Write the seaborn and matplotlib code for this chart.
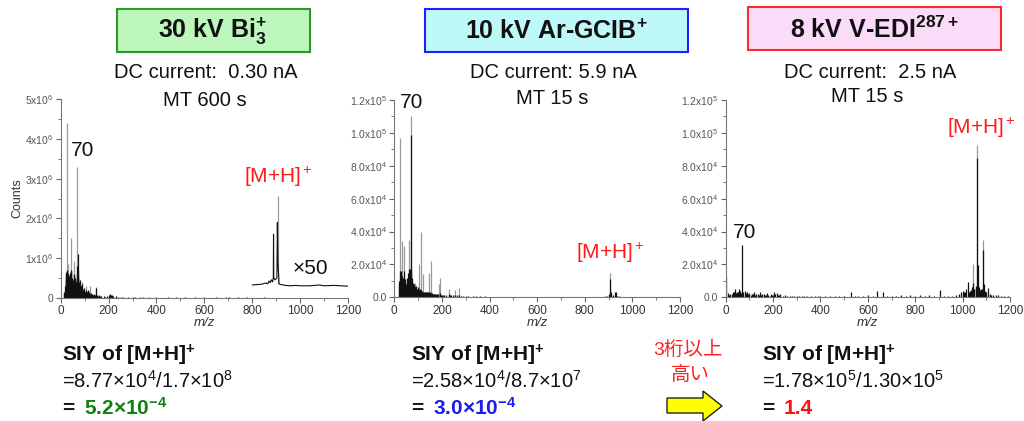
import matplotlib
matplotlib.use("Agg")
import matplotlib.pyplot as plt
import matplotlib.ticker as mticker
from matplotlib.patches import Rectangle, Polygon
import pandas as pd
import seaborn as sns

sns.set_style("ticks")
plt.rcParams["font.family"] = ["Liberation Sans", "Noto Sans CJK JP", "DejaVu Sans"]
plt.rcParams["mathtext.fontset"] = "custom"
plt.rcParams["mathtext.rm"] = "Liberation Sans"
plt.rcParams["mathtext.it"] = "Liberation Sans:italic"
plt.rcParams["mathtext.bf"] = "Liberation Sans:bold"

W, H = 1024, 421

# ---- spectrum data (m/z, counts) ----
# 30 kV Bi3+
bi_black_mz = [12, 15, 18, 22, 24, 26, 28, 30, 32, 36, 39, 41, 43, 46, 50, 53, 55, 59, 62, 65, 67, 69, 72,
               74, 77, 79, 81, 84, 86, 88, 91, 95, 98, 102, 105, 110, 115, 120, 126, 130, 136, 140, 147, 150,
               158, 165, 180, 195, 207, 215, 230, 250, 280, 310, 345, 400, 450, 520, 600, 690, 705, 780]
bi_black_int = [0.12e6, 0.15e6, 0.2e6, 0.45e6, 0.65e6, 0.7e6, 0.55e6, 0.6e6, 0.45e6, 0.5e6, 0.55e6, 0.7e6,
                0.65e6, 0.4e6, 0.35e6, 0.45e6, 0.6e6, 0.4e6, 0.3e6, 0.4e6, 0.5e6, 0.8e6, 1.1e6, 0.5e6, 0.35e6,
                0.3e6, 0.45e6, 0.3e6, 0.25e6, 0.2e6, 0.35e6, 0.2e6, 0.25e6, 0.15e6, 0.2e6, 0.15e6, 0.2e6,
                0.15e6, 0.12e6, 0.1e6, 0.08e6, 0.1e6, 0.25e6, 0.08e6, 0.06e6, 0.05e6, 0.04e6, 0.05e6, 0.1e6,
                0.08e6, 0.04e6, 0.03e6, 0.03e6, 0.02e6, 0.03e6, 0.02e6, 0.03e6, 0.02e6, 0.02e6, 0.03e6,
                0.02e6, 0.02e6]
bi_minor_mz = [20, 21, 23, 25, 27, 29, 31, 33, 34, 35, 37, 38, 40, 42, 45, 47, 48, 49, 51, 52, 54, 56, 58,
               60, 61, 63, 64, 66, 68, 71, 73, 75, 76, 78, 80, 82, 83, 85, 87, 89, 93, 97, 100, 108, 112, 118,
               124, 133, 144, 155, 170, 185, 200, 210, 220, 240, 260, 300, 330, 370, 480, 560, 650, 740, 850]
bi_minor_int = [0.3e6, 0.55e6, 0.6e6, 0.68e6, 0.62e6, 0.5e6, 0.58e6, 0.4e6, 0.55e6, 0.45e6, 0.6e6, 0.5e6,
                0.62e6, 0.68e6, 0.5e6, 0.45e6, 0.4e6, 0.5e6, 0.42e6, 0.38e6, 0.5e6, 0.58e6, 0.5e6, 0.45e6,
                0.35e6, 0.4e6, 0.3e6, 0.45e6, 0.6e6, 0.7e6, 0.55e6, 0.4e6, 0.3e6, 0.35e6, 0.3e6, 0.35e6,
                0.28e6, 0.3e6, 0.22e6, 0.25e6, 0.2e6, 0.18e6, 0.15e6, 0.14e6, 0.16e6, 0.12e6, 0.1e6, 0.08e6,
                0.07e6, 0.05e6, 0.04e6, 0.03e6, 0.06e6, 0.07e6, 0.05e6, 0.03e6, 0.02e6, 0.02e6, 0.02e6,
                0.015e6, 0.015e6, 0.015e6, 0.02e6, 0.015e6, 0.02e6]
bi_gray_mz = [26, 30, 44, 57, 70, 90, 105, 122, 147]
bi_gray_int = [4.4e6, 0.85e6, 1.5e6, 0.92e6, 3.3e6, 0.4e6, 0.3e6, 0.3e6, 0.28e6]
# x50 expanded trace (drawn with its offset)
bi_x50_mz = [800, 820, 840, 855, 865, 870, 875, 880, 885, 888, 889, 890, 895, 903, 905, 907, 910, 912, 920,
             940, 960, 980, 1000, 1040, 1080, 1100, 1140, 1170, 1200]
bi_x50_int = [0.32e6, 0.33e6, 0.34e6, 0.37e6, 0.35e6, 0.42e6, 0.38e6, 0.45e6, 0.4e6, 0.5e6, 1.6e6, 0.5e6,
              0.45e6, 0.5e6, 1.9e6, 0.9e6, 0.6e6, 0.35e6, 0.33e6, 0.31e6, 0.3e6, 0.31e6, 0.3e6, 0.3e6,
              0.32e6, 0.3e6, 0.31e6, 0.3e6, 0.29e6]
bi_x50_gray_mz = [906]
bi_x50_gray_int = [2.56e6]

# 10 kV Ar-GCIB+
ar_black_mz = [20, 23, 27, 30, 36, 41, 44, 50, 55, 58, 63, 67, 70, 74, 77, 80, 84, 88, 91, 95, 98, 102, 106,
               110, 115, 120, 128, 135, 141, 150, 158, 165, 172, 180, 190, 200, 210, 228, 240, 255, 270, 290,
               310, 345, 380, 420, 460, 520, 600, 700, 800, 870, 895, 907, 912, 925, 935, 960, 1000, 1100]
ar_black_int = [1.0e4, 1.6e4, 1.4e4, 1.6e4, 1.2e4, 1.6e4, 0.9e4, 0.8e4, 1.2e4, 1.5e4, 1.7e4, 1.7e4, 9.87e4,
                1.2e4, 0.9e4, 0.7e4, 0.8e4, 0.6e4, 0.7e4, 0.5e4, 0.6e4, 0.5e4, 0.4e4, 0.5e4, 0.4e4, 0.35e4,
                0.3e4, 0.35e4, 0.3e4, 0.3e4, 0.25e4, 0.2e4, 0.2e4, 0.2e4, 0.25e4, 0.15e4, 0.15e4, 0.2e4,
                0.12e4, 0.15e4, 0.15e4, 0.1e4, 0.08e4, 0.06e4, 0.05e4, 0.04e4, 0.03e4, 0.03e4, 0.02e4,
                0.02e4, 0.02e4, 0.03e4, 0.06e4, 1.1e4, 0.3e4, 0.35e4, 0.1e4, 0.04e4, 0.02e4, 0.02e4]
ar_minor_mz = [21, 25, 29, 33, 38, 43, 47, 52, 60, 65, 69, 72, 76, 82, 86, 93, 100, 108, 113, 118, 125, 132,
               138, 145, 155, 162, 168, 176, 185, 195, 205, 218, 233, 248, 262, 280, 300, 330, 360, 400, 440,
               490, 560, 650, 750, 850, 885, 900, 903, 918, 930, 945]
ar_minor_int = [0.8e4, 1.2e4, 1.0e4, 1.3e4, 1.0e4, 1.1e4, 0.7e4, 0.9e4, 1.2e4, 1.4e4, 1.6e4, 1.5e4, 1.0e4,
                0.7e4, 0.6e4, 0.5e4, 0.45e4, 0.4e4, 0.45e4, 0.35e4, 0.3e4, 0.3e4, 0.3e4, 0.3e4, 0.25e4,
                0.2e4, 0.2e4, 0.18e4, 0.2e4, 0.15e4, 0.15e4, 0.12e4, 0.15e4, 0.12e4, 0.12e4, 0.1e4, 0.08e4,
                0.06e4, 0.05e4, 0.04e4, 0.03e4, 0.03e4, 0.02e4, 0.02e4, 0.02e4, 0.03e4, 0.05e4, 0.1e4,
                0.2e4, 0.15e4, 0.3e4, 0.08e4]
ar_gray_mz = [23, 32, 41, 47, 63, 72, 85, 105, 112, 119, 146, 153, 186, 192, 228, 255, 272, 905]
ar_gray_int = [9.7e4, 3.4e4, 3.1e4, 1.1e4, 3.5e4, 1.1e5, 0.9e4, 2.0e4, 4.0e4, 1.4e4, 1.5e4, 2.2e4, 0.8e4,
               1.2e4, 0.5e4, 0.45e4, 0.55e4, 1.46e4]

# 8 kV V-EDI287+
edi_black_mz = [2, 10, 20, 30, 40, 48, 55, 62, 70, 80, 90, 100, 110, 120, 130, 145, 160, 175, 190, 205, 215,
                230, 250, 270, 300, 330, 360, 400, 440, 480, 530, 560, 600, 640, 665, 700, 740, 780, 820,
                860, 905, 940, 970, 995, 1000, 1010, 1021, 1030, 1040, 1044, 1050, 1055, 1062, 1066, 1070,
                1078, 1085, 1090, 1095, 1107, 1115, 1130, 1150, 1175]
edi_black_int = [1.25e4, 0.25e4, 0.2e4, 0.35e4, 0.5e4, 0.3e4, 0.5e4, 0.4e4, 3.18e4, 0.4e4, 0.3e4, 0.25e4,
                 0.2e4, 0.3e4, 0.2e4, 0.3e4, 0.2e4, 0.25e4, 0.2e4, 0.3e4, 0.25e4, 0.2e4, 0.15e4, 0.1e4,
                 0.1e4, 0.1e4, 0.08e4, 0.08e4, 0.08e4, 0.08e4, 0.35e4, 0.1e4, 0.12e4, 0.4e4, 0.3e4, 0.1e4,
                 0.12e4, 0.15e4, 0.12e4, 0.15e4, 0.45e4, 0.1e4, 0.15e4, 0.3e4, 0.4e4, 0.3e4, 0.95e4, 0.4e4,
                 0.6e4, 0.9e4, 0.5e4, 0.6e4, 8.45e4, 1.96e4, 0.6e4, 0.5e4, 2.9e4, 0.8e4, 0.4e4, 0.55e4,
                 0.2e4, 0.15e4, 0.12e4, 0.1e4]
edi_minor_mz = [15, 25, 35, 45, 52, 58, 65, 75, 85, 95, 105, 115, 125, 135, 140, 150, 155, 165, 170, 180,
                185, 195, 200, 210, 220, 225, 240, 260, 280, 290, 310, 320, 345, 375, 390, 420, 460, 500,
                545, 580, 620, 680, 720, 760, 800, 840, 880, 920, 955, 985, 1005, 1015, 1025, 1035, 1048,
                1058, 1074, 1082, 1100, 1120, 1140, 1160, 1190]
edi_minor_int = [0.15e4, 0.2e4, 0.3e4, 0.25e4, 0.35e4, 0.3e4, 0.25e4, 0.3e4, 0.25e4, 0.2e4, 0.15e4, 0.2e4,
                 0.15e4, 0.2e4, 0.15e4, 0.15e4, 0.2e4, 0.15e4, 0.12e4, 0.15e4, 0.1e4, 0.12e4, 0.15e4, 0.2e4,
                 0.15e4, 0.12e4, 0.1e4, 0.1e4, 0.08e4, 0.07e4, 0.06e4, 0.08e4, 0.06e4, 0.05e4, 0.06e4,
                 0.05e4, 0.05e4, 0.06e4, 0.05e4, 0.06e4, 0.05e4, 0.06e4, 0.05e4, 0.06e4, 0.07e4, 0.06e4,
                 0.07e4, 0.08e4, 0.1e4, 0.2e4, 0.3e4, 0.5e4, 0.3e4, 0.45e4, 0.5e4, 0.7e4, 0.45e4, 0.5e4,
                 0.3e4, 0.15e4, 0.12e4, 0.1e4, 0.08e4]
edi_gray_mz = [1044, 1062, 1085]
edi_gray_int = [2.0e4, 9.26e4, 3.49e4]

beam_labels = [r"30 kV Bi$_\mathbf{3}^\mathbf{+}$", r"10 kV Ar-GCIB$^\mathbf{+}$",
               r"8 kV V-EDI$^\mathbf{287+}$"]
dc_labels = ["DC current:  0.30 nA", "DC current: 5.9 nA", "DC current:  2.5 nA"]
mt_labels = ["MT 600 s", "MT 15 s", "MT 15 s"]
siy_lines = [r"=8.77×10$^4$/1.7×10$^8$", r"=2.58×10$^4$/8.7×10$^7$", r"=1.78×10$^5$/1.30×10$^5$"]
siy_values = [r"5.2×10$^\mathbf{-4}$", r"3.0×10$^\mathbf{-4}$", "1.4"]
value_colors = ["#108010", "#1c1cf0", "#ff1010"]
box_face = ["#bdf7bd", "#bff8f8", "#fbdcf8"]
box_edge = ["#2a9a2a", "#2020ff", "#ff2a2a"]


def fx(x):
    return x / W


def fy(y):
    return 1 - y / H


fig = plt.figure(figsize=(10.24, 4.21), dpi=100)


def ftext(x, y, s, **kw):
    kw.setdefault("ha", "center")
    kw.setdefault("va", "center")
    return fig.text(fx(x), fy(y), s, **kw)


def make_axes(l, r, t, b):
    return fig.add_axes([fx(l), fy(b), (r - l) / W, (b - t) / H])


ax1 = make_axes(60.7, 348, 99.3, 297.7)
ax2 = make_axes(394.3, 680, 100, 297.3)
ax3 = make_axes(725.7, 1010, 100, 297.3)


def fmt_bi(v, pos):
    if v == 0:
        return "0"
    return r"%dx10$^6$" % round(v / 1e6)


def fmt_k(v, pos):
    if v == 0:
        return "0.0"
    if v < 1e5 - 1:
        return r"%.1fx10$^4$" % (v / 1e4)
    return r"%.1fx10$^5$" % (v / 1e5)


def style_axes(ax, ymax, ystep, fmt):
    ax.set_xlim(0, 1200)
    ax.set_ylim(0, ymax)
    ax.xaxis.set_major_locator(mticker.MultipleLocator(200))
    ax.xaxis.set_minor_locator(mticker.MultipleLocator(100))
    ax.yaxis.set_major_locator(mticker.MultipleLocator(ystep))
    ax.yaxis.set_minor_locator(mticker.MultipleLocator(ystep / 2))
    ax.yaxis.set_major_formatter(mticker.FuncFormatter(fmt))
    ax.tick_params(which="major", direction="out", length=3.5, width=0.8, colors="#666666")
    ax.tick_params(which="minor", direction="out", length=2, width=0.6, colors="#666666")
    ax.tick_params(axis="x", labelsize=8.5, labelcolor="#333333", pad=2)
    ax.tick_params(axis="y", labelsize=7.5, labelcolor="#555555", pad=2)
    for s in ["top", "right"]:
        ax.spines[s].set_visible(False)
    for s in ["left", "bottom"]:
        ax.spines[s].set_color("#777777")
        ax.spines[s].set_linewidth(0.8)
    ax.set_xlabel("m/z", style="italic", fontsize=9.5, labelpad=0, color="#333333")
    ax.set_ylabel("")
    ax.patch.set_alpha(0)


def sticks(ax, mz, inten, color, lw=0.9):
    df = pd.DataFrame({"mz": mz, "counts": inten})
    ax.vlines(df["mz"], 0, df["counts"], color=color, lw=lw)


# panel 1
sticks(ax1, bi_gray_mz, bi_gray_int, "#9a9a9a")
sticks(ax1, bi_minor_mz, bi_minor_int, "#111111")
sticks(ax1, bi_black_mz, bi_black_int, "#111111")
x50 = pd.DataFrame({"mz": bi_x50_mz, "counts": bi_x50_int})
ax1.vlines(bi_x50_gray_mz, 0.35e6, bi_x50_gray_int, color="#9a9a9a", lw=0.9)
sns.lineplot(data=x50, x="mz", y="counts", ax=ax1, color="#111111", lw=0.8)
style_axes(ax1, 5e6, 1e6, fmt_bi)
ax1.set_ylabel("Counts", fontsize=9, labelpad=1, color="#333333")

# panel 2
sticks(ax2, ar_gray_mz, ar_gray_int, "#9a9a9a")
sticks(ax2, ar_minor_mz, ar_minor_int, "#111111")
sticks(ax2, ar_black_mz, ar_black_int, "#111111")
style_axes(ax2, 1.2e5, 2e4, fmt_k)

# panel 3
sticks(ax3, edi_gray_mz, edi_gray_int, "#9a9a9a")
sticks(ax3, edi_minor_mz, edi_minor_int, "#111111")
sticks(ax3, edi_black_mz, edi_black_int, "#111111")
style_axes(ax3, 1.2e5, 2e4, fmt_k)

# peak labels
ftext(83, 151, "70", fontsize=15, color="#111111")
ftext(412, 103, "70", fontsize=15, color="#111111")
ftext(745, 233, "70", fontsize=15, color="#111111")
ftext(278, 177, r"[M+H]$^+$", fontsize=15, color="#ff1a1a")
ftext(610, 253, r"[M+H]$^+$", fontsize=15, color="#ff1a1a")
ftext(981, 128, r"[M+H]$^+$", fontsize=15, color="#ff1a1a")
ftext(310, 268, "×50", fontsize=15, color="#111111")

# beam boxes and conditions
box_x = [(116.5, 309.5), (425, 688), (748, 1001)]
box_y = [(9, 52), (9, 52), (7, 50)]
dc_x = [206, 553, 870]
mt_pos = [(205, 100), (552, 99), (867, 97)]
for i in range(3):
    (l, r), (t, b) = box_x[i], box_y[i]
    fig.add_artist(Rectangle((fx(l), fy(b)), (r - l) / W, (b - t) / H, transform=fig.transFigure,
                             facecolor=box_face[i], edgecolor=box_edge[i], lw=1.5))
    ftext((l + r) / 2, (t + b) / 2 + 1, beam_labels[i], fontsize=18, fontweight="bold", color="#111111")
    ftext(dc_x[i], 73, dc_labels[i], fontsize=14.5, color="#111111")
    ftext(mt_pos[i][0], mt_pos[i][1], mt_labels[i], fontsize=14.5, color="#111111")

# SIY text
siy_x = [62, 411, 762]
for i in range(3):
    ftext(siy_x[i], 355, r"SIY of [M+H]$^\mathbf{+}$", fontsize=15, fontweight="bold", ha="left",
          color="#111111")
    ftext(siy_x[i], 381, siy_lines[i], fontsize=14.5, ha="left", color="#111111")
    ftext(siy_x[i], 408, "=", fontsize=15, fontweight="bold", ha="left", color="#111111")
    ftext(siy_x[i] + 22, 408, siy_values[i], fontsize=15, fontweight="bold", ha="left",
          color=value_colors[i])

ftext(688, 350, "3桁以上", fontsize=14, color="#ff2020")
ftext(690, 375, "高い", fontsize=14, color="#ff2020")
arrow_px = [(667, 398), (703, 398), (703, 391), (722, 406), (703, 421), (703, 413), (667, 413)]
fig.add_artist(Polygon([(fx(x), fy(y)) for x, y in arrow_px], closed=True, transform=fig.transFigure,
                       facecolor="#ffff00", edgecolor="#222222", lw=1))

fig.savefig("out.png", dpi=100)
